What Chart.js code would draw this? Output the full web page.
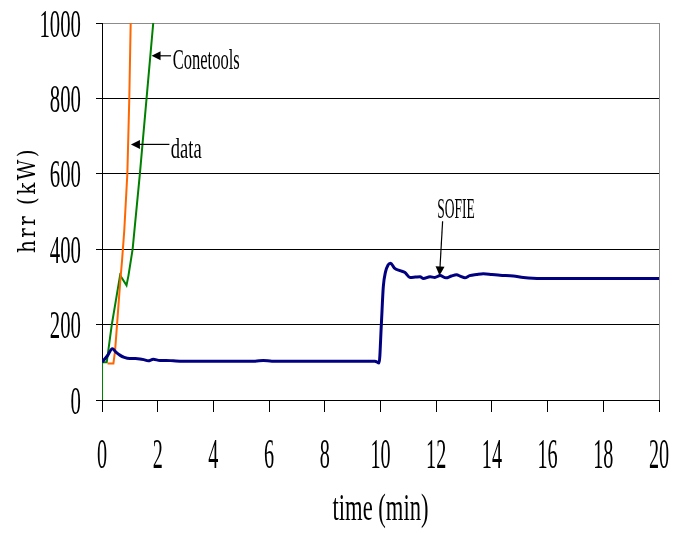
<!DOCTYPE html>
<html>
<head>
<meta charset="utf-8">
<script src="https://cdn.jsdelivr.net/npm/chart.js@4.4.1/dist/chart.umd.min.js"></script>
<style>
  html, body { margin: 0; background: #fff; }
  canvas { display: block; }
</style>
</head>
<body>
<canvas id="hrrChart" width="689" height="533"></canvas>
<script>
// --- Data ---
const xTicks = [0, 2, 4, 6, 8, 10, 12, 14, 16, 18, 20];
const yTicks = [0, 200, 400, 600, 800, 1000];

const sofieTime = [0, 0.2, 0.37, 0.5, 0.64, 0.8, 1.0, 1.2, 1.36, 1.5, 1.66, 1.84, 2.08, 2.3, 2.56, 2.9, 3.5, 4.5, 5.5, 5.79, 6.1, 7, 8, 9, 9.8, 9.95,
  10.03, 10.1, 10.18, 10.27, 10.36, 10.5, 10.7, 10.88, 11.06, 11.25, 11.42, 11.54, 11.78, 11.95, 12.14, 12.35, 12.55, 12.73, 12.88, 13.03, 13.2,
  13.45, 13.69, 14.0, 14.29, 14.77, 15.13, 15.75, 17, 18, 19, 20];
const sofieHrr = [100, 118, 136, 127, 119, 113, 110, 110, 109, 107, 104, 108, 105, 105, 104, 103, 103, 103, 103, 105, 103, 103, 103, 103, 103, 98,
  200, 300, 340, 358, 363, 350, 343, 338, 325, 326, 327, 322, 327, 325, 330, 324, 329, 332, 328, 324, 330,
  333, 335, 333, 331, 329, 325, 322, 322, 322, 322, 322];

const dataTime = [0.2, 0.41, 0.47, 0.56, 0.65, 0.72, 0.8, 0.91, 0.98, 1.03];
const dataHrr = [97, 97, 131, 220, 310, 370, 450, 600, 800, 1000];

const coneTime = [0, 0.001, 0.17, 0.35, 0.5, 0.65, 0.88, 0.95, 1.1, 1.36, 1.6, 1.84];
const coneHrr = [0, 100, 100, 199, 265, 331, 304, 330, 400, 600, 800, 1000];

// label text, label position, arrow tail and arrow tip, all in (min, kW)
const notes = [
  { text: 'Conetools', at: [2.54, 877], tail: [2.48, 913], tip: [1.78, 913], size: 30, sx: 0.55 },
  { text: 'data', at: [2.47, 643], tail: [2.42, 678], tip: [1.04, 678], size: 29, sx: 0.64 },
  { text: 'SOFIE', at: [12.04, 482], tail: [12.23, 474], tip: [12.12, 330], size: 30, sx: 0.45 }
];

const pts = (xs, ys) => xs.map((x, i) => ({ x: x, y: ys[i] }));

// --- Narrow serif text helper ---
function squeezeText(ctx, str, x, y, size, sx, align, family, spacing) {
  ctx.save();
  ctx.font = size + 'px ' + (family || "'Liberation Serif', serif");
  ctx.fillStyle = '#000';
  ctx.textAlign = align || 'left';
  ctx.textBaseline = 'alphabetic';
  if (spacing) ctx.letterSpacing = spacing;
  ctx.translate(x, y);
  ctx.scale(sx, 1);
  ctx.fillText(str, 0, 0);
  ctx.restore();
}

function arrow(ctx, x1, y1, x2, y2, len, half) {
  const a = Math.atan2(y2 - y1, x2 - x1);
  ctx.save();
  ctx.strokeStyle = '#000';
  ctx.fillStyle = '#000';
  ctx.lineWidth = 1.2;
  ctx.beginPath();
  ctx.moveTo(x1, y1);
  ctx.lineTo(x2 - Math.cos(a) * len * 0.8, y2 - Math.sin(a) * len * 0.8);
  ctx.stroke();
  ctx.translate(x2, y2);
  ctx.rotate(a);
  ctx.beginPath();
  ctx.moveTo(0, 0);
  ctx.lineTo(-len, -half);
  ctx.lineTo(-len, half);
  ctx.closePath();
  ctx.fill();
  ctx.restore();
}

const textPlugin = {
  id: 'hrrText',
  afterDraw(chart) {
    const ctx = chart.ctx;
    const xs = chart.scales.x, ys = chart.scales.y;
    const area = chart.chartArea;

    ys.ticks.forEach(t => {
      squeezeText(ctx, String(t.value), 81, ys.getPixelForValue(t.value) + 13.5, 40, 0.52, 'right');
    });
    xs.ticks.forEach(t => {
      squeezeText(ctx, String(t.value), xs.getPixelForValue(t.value), 468, 42, 0.48, 'center');
    });

    squeezeText(ctx, 'time (min)', (area.left + area.right) / 2, 520, 37, 0.61, 'center');

    ctx.save();
    ctx.translate(34.5, 200);
    ctx.rotate(-Math.PI / 2);
    squeezeText(ctx, 'hrr (kW)', 0, 0, 25, 0.8, 'center', "'DejaVu Serif', serif", '3px');
    ctx.restore();

    notes.forEach(n => {
      const px = v => xs.getPixelForValue(v[0]);
      const py = v => ys.getPixelForValue(v[1]);
      squeezeText(ctx, n.text, px(n.at), py(n.at), n.size, n.sx, 'left');
      arrow(ctx, px(n.tail), py(n.tail), px(n.tip), py(n.tip), 9, 4.5);
    });
  }
};

// --- Chart ---
new Chart(document.getElementById('hrrChart'), {
  type: 'line',
  data: {
    datasets: [
      { label: 'SOFIE', data: pts(sofieTime, sofieHrr), borderColor: '#000080', borderWidth: 3, cubicInterpolationMode: 'monotone' },
      { label: 'data', data: pts(dataTime, dataHrr), borderColor: '#ff6600', borderWidth: 2, tension: 0 },
      { label: 'Conetools', data: pts(coneTime, coneHrr), borderColor: '#008000', borderWidth: 2, tension: 0 }
    ]
  },
  options: {
    responsive: false,
    animation: false,
    layout: { padding: { top: 23, right: 30, left: 0, bottom: 0 } },
    elements: { point: { radius: 0 } },
    plugins: { legend: { display: false }, tooltip: { enabled: false } },
    scales: {
      x: {
        type: 'linear', min: 0, max: 20,
        afterBuildTicks: s => { s.ticks = xTicks.map(v => ({ value: v })); },
        afterFit: s => { s.height = 133; },
        ticks: { display: false },
        grid: {
          color: c => (c.tick && c.tick.value === 20) ? '#8c8c8c' : 'rgba(0,0,0,0)',
          tickColor: '#000', tickLength: 12, lineWidth: 1
        },
        border: { color: '#000', width: 1 }
      },
      y: {
        type: 'linear', min: 0, max: 1000,
        afterBuildTicks: s => { s.ticks = yTicks.map(v => ({ value: v })); },
        afterFit: s => { s.width = 102; },
        ticks: { display: false },
        grid: {
          color: c => (c.tick && c.tick.value === 1000) ? '#8c8c8c' : '#000',
          tickColor: '#000', tickLength: 6, lineWidth: 1
        },
        border: { color: '#000', width: 1 }
      }
    }
  },
  plugins: [textPlugin]
});
</script>
</body>
</html>
